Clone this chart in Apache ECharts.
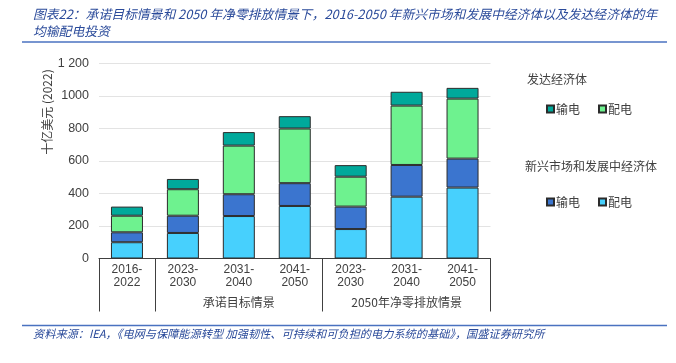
<!DOCTYPE html>
<html>
<head>
<meta charset="utf-8">
<script src="https://cdn.jsdelivr.net/npm/echarts@6/dist/echarts.min.js"></script>
<style>
html,body{margin:0;padding:0;background:#fff;}
#c{width:676px;height:363px;}
</style>
</head>
<body>
<div id="c"></div>
<script>
const categories = ['2016-\n2022','2023-\n2030','2031-\n2040','2041-\n2050','2023-\n2030','2031-\n2040','2041-\n2050'];
const groupLabels = ['', '', '承诺目标情景', '', '', '2050年净零排放情景', ''];
const emdeDistribution = [100, 157, 261, 323, 181, 380, 436];
const emdeTransmission = [61, 106, 134, 140, 138, 195, 178];
const aeDistribution = [102, 163, 299, 336, 184, 365, 369];
const aeTransmission = [56, 63, 83, 76, 71, 85, 66];
const yTickLabels = {0:'0',200:'200',400:'400',600:'600',800:'800',1000:'1000',1200:'1 200'};

const FONT = '"Noto Sans CJK SC", "Noto Sans", sans-serif';
const NUMFONT = '"Liberation Sans", "Noto Sans CJK SC", sans-serif';
const chart = echarts.init(document.getElementById('c'));
const border = {borderColor:'#2b2b2b', borderWidth:1};
function s(name, data, color){
  return {name:name, type:'bar', stack:'t', data:data, barWidth:32,
    itemStyle:Object.assign({color:color}, border), emphasis:{disabled:true}};
}
const titleColor = '#2a4a9a';
chart.setOption({
  animation:false,
  textStyle:{fontFamily:FONT},
  grid:{left:99, right:185.5, top:63.3, bottom:104.5, containLabel:false},
  xAxis:[{
    type:'category', data:categories,
    axisLine:{lineStyle:{color:'#404040', width:1}},
    axisTick:{show:true, length:53, interval:function(i){return i===0||i===1||i===4;}, lineStyle:{color:'#404040'}},
    axisLabel:{interval:0, margin:5, fontSize:12, lineHeight:13, color:'#404040', fontFamily:NUMFONT}
  },{
    type:'category', data:groupLabels, position:'bottom',
    axisLine:{show:false}, axisTick:{show:false},
    axisLabel:{interval:0, margin:38, fontSize:12, color:'#404040', fontFamily:FONT}
  }],
  yAxis:{
    type:'value', min:0, max:1200, interval:200,
    axisLine:{show:false}, axisTick:{show:false},
    splitLine:{lineStyle:{color:'#e3e3e3'}},
    axisLabel:{formatter:function(v){return yTickLabels[v];}, margin:10, fontSize:12.5, color:'#404040', fontFamily:NUMFONT}
  },
  legend:[{
    data:['发达经济体 输电','发达经济体 配电'],
    left:541, top:98, itemWidth:7, itemHeight:7, itemGap:18, icon:'rect',
    formatter:function(n){return n.split(' ')[1];},
    textStyle:{fontSize:12, color:'#404040', padding:[0,0,0,-3]}
  },{
    data:['新兴 输电','新兴 配电'],
    left:541, top:191, itemWidth:7, itemHeight:7, itemGap:18, icon:'rect',
    formatter:function(n){return n.split(' ')[1];},
    textStyle:{fontSize:12, color:'#404040', padding:[0,0,0,-3]}
  }],
  graphic:[
    {type:'text', left:33, top:8, style:{text:'图表22：承诺目标情景和 2050 年净零排放情景下，2016-2050 年新兴市场和发展中经济体以及发达经济体的年', fontSize:12.8, fontStyle:'italic', fill:titleColor, fontFamily:FONT}},
    {type:'text', left:33, top:25, style:{text:'均输配电投资', fontSize:12.8, fontStyle:'italic', fill:titleColor, fontFamily:FONT}},
    {type:'line', shape:{x1:22, y1:42, x2:667, y2:42}, style:{stroke:'#4a72c0', lineWidth:1.5}},
    {type:'line', shape:{x1:22, y1:325.5, x2:667, y2:325.5}, style:{stroke:'#4a72c0', lineWidth:1.5}},
    {type:'text', left:33, top:328, style:{text:'资料来源：IEA，《电网与保障能源转型 加强韧性、可持续和可负担的电力系统的基础》，国盛证券研究所', fontSize:11.2, fontStyle:'italic', fill:titleColor, fontFamily:FONT}},
    {type:'text', x:47, y:112, rotation:Math.PI/2, style:{text:'十亿美元 (2022)', fontSize:12, fill:'#404040', align:'center', verticalAlign:'middle', fontFamily:FONT}},
    {type:'text', left:527, top:73, style:{text:'发达经济体', fontSize:12, fill:'#404040', fontFamily:FONT}},
    {type:'text', left:525, top:160, style:{text:'新兴市场和发展中经济体', fontSize:12, fill:'#404040', fontFamily:FONT}}
  ],
  series:[
    s('新兴 配电', emdeDistribution, '#47d0fd'),
    s('新兴 输电', emdeTransmission, '#3b75cf'),
    s('发达经济体 配电', aeDistribution, '#6ef28f'),
    s('发达经济体 输电', aeTransmission, '#00a99b')
  ]
});
</script>
</body>
</html>
